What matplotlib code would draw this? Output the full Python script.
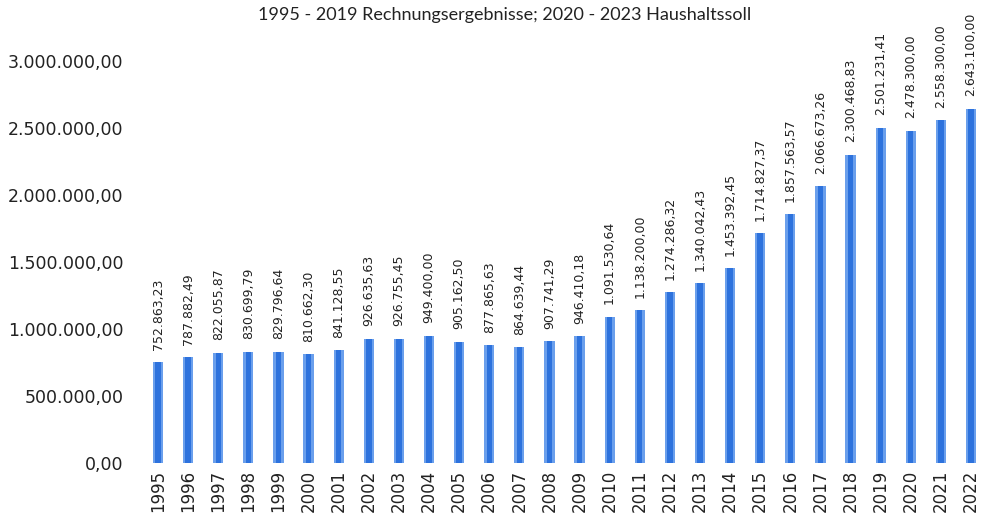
import matplotlib
matplotlib.use("Agg")
import matplotlib.pyplot as plt

years = [str(y) for y in range(1995, 2023)]
values = [752863.23, 787882.49, 822055.87, 830699.79, 829796.64, 810662.30,
          841128.55, 926635.63, 926755.45, 949400.00, 905162.50, 877865.63,
          864639.44, 907741.29, 946410.18, 1091530.64, 1138200.00, 1274286.32,
          1340042.43, 1453392.45, 1714827.37, 1857563.57, 2066673.26,
          2300468.83, 2501231.41, 2478300.00, 2558300.00, 2643100.00]
yticks = [0, 500000, 1000000, 1500000, 2000000, 2500000, 3000000]
title = "1995 - 2019 Rechnungsergebnisse; 2020 - 2023 Haushaltssoll"


def de(v):
    s = f"{v:,.2f}"
    return s.replace(",", "X").replace(".", ",").replace("X", ".")


fig = plt.figure(figsize=(9.83, 5.22), dpi=100)
ax = fig.add_axes([143 / 983, 1 - 463 / 522, 1 - 143 / 983, (463 - 61) / 522])
x = list(range(len(years)))
ax.bar(x, values, width=0.34, color="#6a9fec", zorder=2)
ax.bar(x, values, width=0.18, color="#2d72dd", zorder=3)
for xi, v in zip(x, values):
    ax.annotate(de(v), (xi, v), xytext=(0, 9), textcoords="offset points",
                rotation=90, ha="center", va="bottom", fontsize=9,
                family="DejaVu Sans", color="#222222", annotation_clip=False)

ax.set_xlim(-0.5, 27.4)
ax.set_ylim(0, 3000000)
ax.set_yticks(yticks)
ax.set_yticklabels([de(t) for t in yticks], fontsize=12.5, family="DejaVu Sans",
                   color="#222222")
ax.set_xticks(x)
ax.set_xticklabels(years, rotation=90, fontsize=12, family="DejaVu Sans",
                   color="#222222")
ax.tick_params(axis="y", length=0, pad=14)
ax.tick_params(axis="x", length=0, pad=5)
for s in ax.spines.values():
    s.set_visible(False)

fig.text(505 / 983, 1 - 15 / 522, title, ha="center", va="center",
         fontsize=13, family="Lato", color="#222222")

fig.savefig("out.png", dpi=100)
